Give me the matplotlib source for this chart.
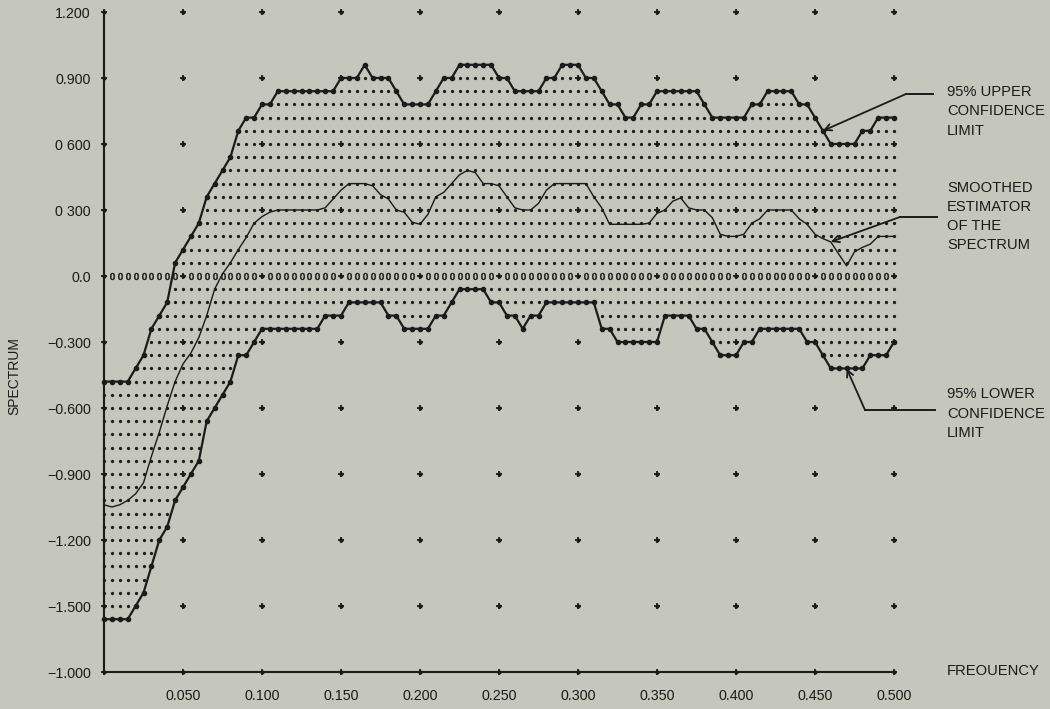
import numpy as np
import matplotlib
matplotlib.use("Agg")
import matplotlib.pyplot as plt
from matplotlib.lines import Line2D

plt.rcParams['font.family'] = ['Liberation Sans', 'DejaVu Sans']

# ---------------- data ----------------
freq = np.linspace(0.0, 0.5, 101)          # printer columns, 0.005 apart

upper = ([-0.48] * 4 + [-0.42, -0.36, -0.24, -0.18, -0.12, 0.06, 0.12, 0.18, 0.24,
                         0.36, 0.42, 0.48, 0.54, 0.66, 0.72, 0.72, 0.78, 0.78]
         + [0.84] * 8 + [0.90] * 3 + [0.96] + [0.90] * 3 + [0.84] + [0.78] * 4
         + [0.84] + [0.90] * 2 + [0.96] * 5 + [0.90] * 2 + [0.84] * 4 + [0.90] * 2
         + [0.96] * 3 + [0.90] * 2 + [0.84] + [0.78] * 2 + [0.72] * 2 + [0.78] * 2
         + [0.84] * 6 + [0.78] + [0.72] * 5 + [0.78] * 2 + [0.84] * 4 + [0.78] * 2
         + [0.72, 0.66] + [0.60] * 4 + [0.66] * 2 + [0.72] * 3)

lower = ([-1.56] * 4 + [-1.50, -1.44, -1.32, -1.20, -1.14, -1.02, -0.96, -0.90, -0.84,
                        -0.66, -0.60, -0.54, -0.48, -0.36, -0.36, -0.30]
         + [-0.24] * 8 + [-0.18] * 3 + [-0.12] * 5 + [-0.18] * 2 + [-0.24] * 4
         + [-0.18] * 2 + [-0.12] + [-0.06] * 4 + [-0.12] * 2 + [-0.18] * 2 + [-0.24]
         + [-0.18] * 2 + [-0.12] * 7 + [-0.24] * 2 + [-0.30] * 6 + [-0.18] * 4
         + [-0.24] * 2 + [-0.30] + [-0.36] * 3 + [-0.30] * 2 + [-0.24] * 6
         + [-0.30] * 2 + [-0.36] + [-0.42] * 5 + [-0.36] * 3 + [-0.30])

smoothed = [-1.04, -1.05, -1.04, -1.02, -0.99, -0.94, -0.82, -0.71, -0.59, -0.48,
            -0.40, -0.35, -0.28, -0.18, -0.06, 0.01, 0.06, 0.12, 0.175, 0.24,
            0.27, 0.29, 0.30, 0.30, 0.30, 0.30, 0.30, 0.30, 0.31, 0.35,
            0.39, 0.42, 0.42, 0.42, 0.41, 0.37, 0.35, 0.30, 0.29, 0.245,
            0.235, 0.28, 0.36, 0.38, 0.42, 0.46, 0.48, 0.47, 0.42, 0.42,
            0.41, 0.36, 0.31, 0.30, 0.30, 0.33, 0.39, 0.42, 0.42, 0.42,
            0.42, 0.42, 0.36, 0.31, 0.235, 0.235, 0.235, 0.235, 0.235, 0.24,
            0.285, 0.30, 0.34, 0.355, 0.31, 0.30, 0.30, 0.265, 0.19, 0.18,
            0.18, 0.19, 0.24, 0.26, 0.30, 0.30, 0.30, 0.30, 0.26, 0.235,
            0.19, 0.17, 0.155, 0.10, 0.046, 0.11, 0.13, 0.145, 0.18, 0.18,
            0.18]

row_step = 0.06
x_ticks = [0.05, 0.10, 0.15, 0.20, 0.25, 0.30, 0.35, 0.40, 0.45, 0.50]
x_labels = ["0.050", "0.100", "0.150", "0.200", "0.250", "0.300", "0.350",
            "0.400", "0.450", "0.500"]
y_ticks = [1.2, 0.9, 0.6, 0.3, 0.0, -0.3, -0.6, -0.9, -1.2, -1.5, -1.8]
y_labels = ["1.200", "0.900", "0 600", "0 300", "0.0", "\u22120.300", "\u22120.600",
            "\u22120.900", "\u22121.200", "\u22121.500", "\u22121.000"]

upper_text = ["95% UPPER", "CONFIDENCE", "LIMIT"]
smooth_text = ["SMOOTHED", "ESTIMATOR", "OF THE", "SPECTRUM"]
lower_text = ["95% LOWER", "CONFIDENCE", "LIMIT"]

# ---------------- styling ----------------
bg = '#c5c6bc'
ink = '#1b1b1b'
W, H = 1050, 709

fig = plt.figure(figsize=(W / 100, H / 100), dpi=100, facecolor=bg)
ax = fig.add_axes([104 / W, 37 / H, 790 / W, 660 / H])
ax.set_facecolor(bg)
ax.set_xlim(0, 0.5)
ax.set_ylim(-1.8, 1.2)

for s in ['top', 'right']:
    ax.spines[s].set_visible(False)
for s in ['left', 'bottom']:
    ax.spines[s].set_color(ink)
    ax.spines[s].set_linewidth(1.5)

ax.set_xticks(x_ticks)
ax.set_xticklabels(x_labels)
ax.set_yticks(y_ticks)
ax.set_yticklabels(y_labels)
ax.tick_params(axis='x', length=0, pad=12, labelsize=10.3, colors=ink)
ax.tick_params(axis='y', length=0, pad=9.5, labelsize=10.3, colors=ink)

# ---------------- dotted band between the limits ----------------
up_rows = [int(round(v / row_step)) for v in upper]
lo_rows = [int(round(v / row_step)) for v in lower]
dx, dy = [], []
for c in range(len(freq)):
    for r in range(lo_rows[c] + 1, up_rows[c]):
        if r == 0:
            continue
        if c % 10 == 0 and r % 5 == 0:
            continue
        dx.append(freq[c])
        dy.append(r * row_step)
ax.scatter(dx, dy, s=5.5, color=ink, marker='o', linewidths=0, zorder=2, clip_on=False)

# zero row printed as "0" characters
zx = [freq[c] for c in range(1, len(freq)) if c % 10 != 0]
ax.scatter(zx, [0.0] * len(zx), marker='$0$', s=24, color=ink, linewidths=0.4,
           zorder=2, clip_on=False)

# grid "+" marks
gx, gy = np.meshgrid(np.linspace(0, 0.5, 11), np.array(y_ticks))
ax.scatter(gx.ravel(), gy.ravel(), marker='+', s=24, color=ink, linewidths=1.3,
           zorder=3, clip_on=False)
ax.scatter(gx.ravel(), gy.ravel(), marker='o', s=9, color=ink, linewidths=0,
           zorder=3, clip_on=False)

# ---------------- curves ----------------
ax.plot(freq, smoothed, color=ink, lw=1.0, zorder=4, clip_on=False)
ax.plot(freq, upper, color=ink, lw=1.6, marker='o', ms=3.0, zorder=5, clip_on=False)
ax.plot(freq, lower, color=ink, lw=1.6, marker='o', ms=3.0, zorder=5, clip_on=False)

# ---------------- annotations ----------------
def leader(tip_x, tip_y, elbow_px, end_px):
    ex, ey = elbow_px
    fx, fy = end_px
    fig.add_artist(Line2D([ex / W, fx / W], [1 - ey / H, 1 - fy / H],
                          transform=fig.transFigure, color=ink, lw=1.4))
    ax.annotate('', xy=(tip_x, tip_y), xytext=(ex, H - ey),
                textcoords='figure pixels',
                arrowprops=dict(arrowstyle='->', color=ink, lw=1.3,
                                shrinkA=0, shrinkB=0, mutation_scale=12),
                annotation_clip=False)

leader(freq[91], upper[91], (906, 94), (933, 94))
leader(freq[92], smoothed[92], (900, 217), (937, 217))
leader(freq[94], lower[94], (865, 410), (935, 410))

def block(lines, y0, step):
    for i, t in enumerate(lines):
        fig.text(947 / W, 1 - (y0 + i * step) / H, t, ha='left', va='center',
                 fontsize=10.6, color=ink)

block(upper_text, 92, 19.3)
block(smooth_text, 188, 19.1)
block(lower_text, 394, 19.5)
fig.text(947 / W, 1 - 671 / H, "FREOUENCY", ha='left', va='center',
         fontsize=10.6, color=ink)
fig.text(14 / W, 1 - 376 / H, "SPECTRUM", ha='center', va='center',
         rotation=90, fontsize=10, color=ink)

fig.savefig("out.png", dpi=100, facecolor=bg)
